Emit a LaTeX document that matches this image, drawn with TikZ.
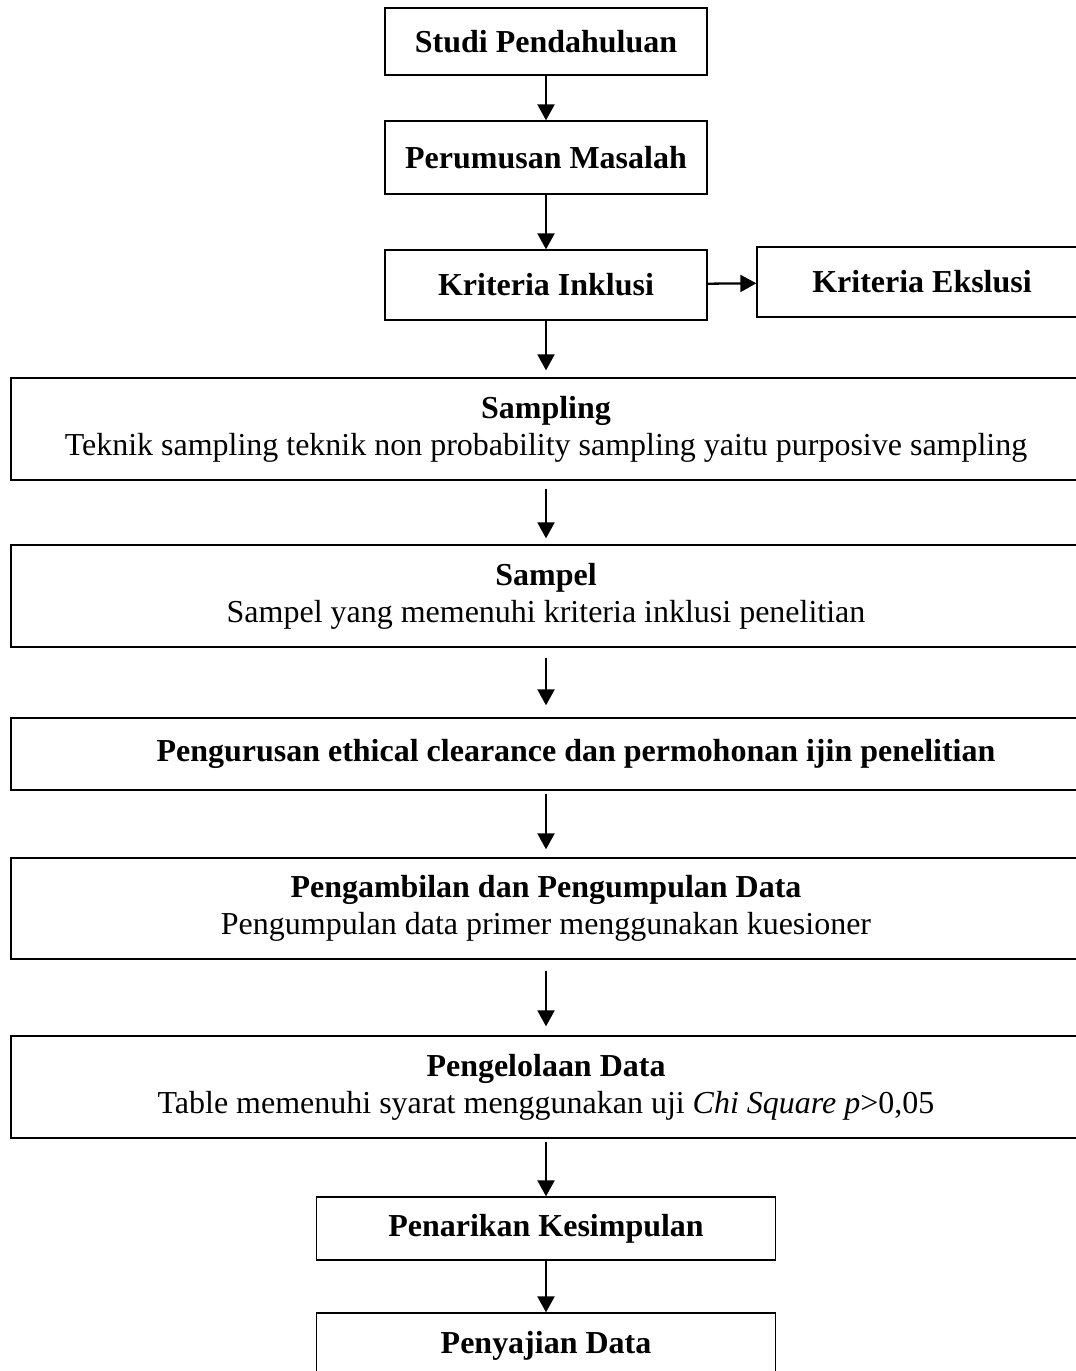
\documentclass[tikz,border=0pt]{standalone}
\usepackage{fontspec}
\setmainfont{Liberation Serif}
\usepackage{tikz}
\usetikzlibrary{arrows.meta}
\tikzset{
  kotak/.style={draw=black,line width=0.75pt,inner sep=0pt,align=center,font=\fontsize{18.2}{21}\selectfont},
  kecil/.style={kotak,minimum width=6.44cm},
  lebar/.style={kotak,minimum width=21.4cm},
  panah/.style={-{Triangle[length=0.32cm,width=0.34cm]},line width=1.3pt}
}

\begin{document}
\begin{tikzpicture}
\useasboundingbox (0,0) rectangle (21.5,27.42);
% tiga kotak atas
\node[kecil,minimum height=1.34cm] (studi) at (10.92,26.59) {\bfseries Studi Pendahuluan};
\node[kecil,minimum height=1.46cm] (rumusan) at (10.92,24.27) {\bfseries Perumusan Masalah};
\node[kecil,minimum height=1.4cm] (inklusi) at (10.92,21.72) {\bfseries Kriteria Inklusi};
\node[kotak,minimum width=6.6cm,minimum height=1.4cm] (ekslusi) at (18.44,21.78) {\bfseries Kriteria Ekslusi};
% kotak lebar
\node[lebar,minimum height=2.04cm] (sampling) at (10.92,18.84) {\bfseries Sampling\\Teknik sampling teknik non probability sampling yaitu purposive sampling};
\node[lebar,minimum height=2.04cm] (sampel) at (10.92,15.5) {\bfseries Sampel\\Sampel yang memenuhi kriteria inklusi penelitian};
\node[lebar,minimum height=1.44cm] (etik) at (10.92,12.34) {\hspace*{1.2cm}\bfseries Pengurusan ethical clearance dan permohonan ijin penelitian};
\node[lebar,minimum height=2.02cm] (ambil) at (10.92,9.25) {\bfseries Pengambilan dan Pengumpulan Data\\Pengumpulan data primer menggunakan kuesioner};
\node[lebar,minimum height=2.04cm] (olah) at (10.92,5.68) {\bfseries Pengelolaan Data\\Table memenuhi syarat menggunakan uji \textit{Chi Square p}>0,05};
% dua kotak bawah
\node[kotak,minimum width=9.18cm,minimum height=1.26cm] (tarik) at (10.92,2.85) {\bfseries Penarikan Kesimpulan};
\node[kotak,minimum width=9.18cm,minimum height=1.32cm] (saji) at (10.92,0.5) {\bfseries Penyajian Data};
% panah
\draw[panah] (studi) -- (rumusan);
\draw[panah] (rumusan) -- (inklusi);
\draw[panah] (inklusi) -- (ekslusi);
\draw[panah,shorten >=0.14cm] (inklusi) -- (sampling);
\draw[panah,shorten <=0.16cm,shorten >=0.12cm] (sampling) -- (sampel);
\draw[panah,shorten <=0.2cm,shorten >=0.24cm] (sampel) -- (etik);
\draw[panah,shorten <=0.06cm,shorten >=0.16cm] (etik) -- (ambil);
\draw[panah,shorten <=0.22cm,shorten >=0.18cm] (ambil) -- (olah);
\draw[panah,shorten <=0.06cm] (olah) -- (tarik);
\draw[panah] (tarik) -- (saji);
\end{tikzpicture}
\end{document}
